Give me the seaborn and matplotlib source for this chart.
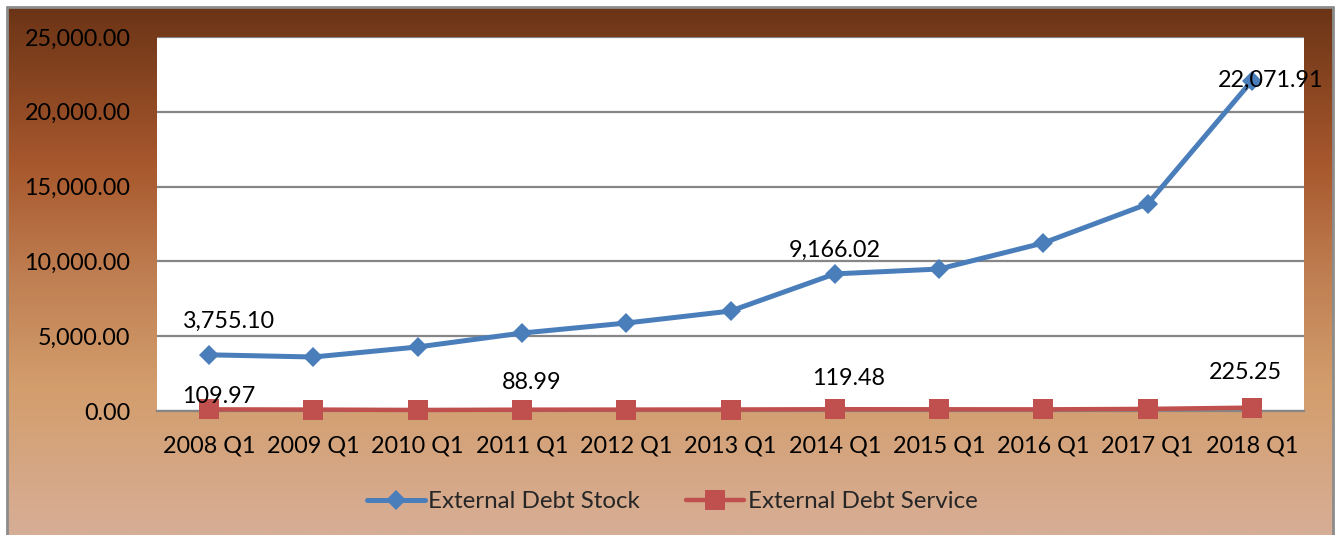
import numpy as np
import pandas as pd
import matplotlib
matplotlib.use("Agg")
import matplotlib.pyplot as plt
from matplotlib.ticker import FuncFormatter, FixedLocator
from matplotlib.colors import LinearSegmentedColormap
from matplotlib.lines import Line2D
import seaborn as sns

# ---- data ----
periods = ["2008 Q1", "2009 Q1", "2010 Q1", "2011 Q1", "2012 Q1", "2013 Q1",
           "2014 Q1", "2015 Q1", "2016 Q1", "2017 Q1", "2018 Q1"]
debt_stock = [3755.10, 3610, 4280, 5210, 5880, 6680, 9166.02, 9490, 11230, 13840, 22071.91]
debt_service = [109.97, 95, 70, 88.99, 95, 100, 119.48, 115, 110, 140, 225.25]
stock_label = "External Debt Stock"
service_label = "External Debt Service"
y_ticks = [0, 5000, 10000, 15000, 20000, 25000]
# labelled points: (index, text)
stock_labels = [(0, "3,755.10"), (6, "9,166.02"), (10, "22,071.91")]
service_labels = [(0, "109.97"), (3, "88.99"), (6, "119.48"), (10, "225.25")]

sns.set_theme(style="white")
plt.rcParams["font.family"] = ["Lato", "DejaVu Sans"]
FS = 16.8

W, H = 1335, 535
fig = plt.figure(figsize=(W / 100, H / 100), dpi=100)
fig.patch.set_facecolor("white")

# background gradient frame
bg = fig.add_axes([0, 0, 1, 1], zorder=0)
bg.set_xlim(0, W)
bg.set_ylim(H, 0)
bg.axis("off")
cmap = LinearSegmentedColormap.from_list("brown", [
    (0.0, (107/255, 52/255, 22/255)),
    (0.3, (168/255, 88/255, 45/255)),
    (0.5, (190/255, 125/255, 80/255)),
    (0.72, (211/255, 157/255, 108/255)),
    (1.0, (215/255, 174/255, 150/255)),
])
grad = np.linspace(0, 1, 256).reshape(-1, 1)
bg.imshow(grad, cmap=cmap, aspect="auto", extent=[7, 1333, 535, 7], zorder=0)
bg.plot([7, 7], [7, 535], color="#8c8c8c", lw=2, zorder=1)
bg.plot([7, 1333], [7, 7], color="#8c8c8c", lw=2, zorder=1)
bg.plot([1333, 1333], [7, 535], color="#8c8c8c", lw=2, zorder=1)

# main axes
L, R, T, B = 157, 1304, 37, 411
ax = fig.add_axes([L / W, 1 - B / H, (R - L) / W, (B - T) / H], zorder=2)
ax.set_facecolor("white")

df = pd.DataFrame({"period": periods, "stock": debt_stock, "service": debt_service})
blue = "#4A7EBB"
red = "#C0504D"
sns.lineplot(data=df, x="period", y="stock", ax=ax, sort=False, color=blue,
             lw=3.6, marker="D", markersize=9.7, markeredgewidth=0,
             markeredgecolor=blue, label=stock_label, legend=False, zorder=4)
sns.lineplot(data=df, x="period", y="service", ax=ax, sort=False, color=red,
             lw=3.2, marker="s", markersize=14.4, markeredgewidth=0,
             markeredgecolor=red, label=service_label, legend=False, zorder=3)
for ln in ax.lines:
    ln.set_clip_on(False)

ax.set_xlim(-0.5, len(periods) - 0.5)
ax.set_ylim(0, 25000)
ax.yaxis.set_major_locator(FixedLocator(y_ticks))
ax.yaxis.set_major_formatter(FuncFormatter(lambda v, p: f"{v:,.2f}"))
ax.grid(axis="y", color="#868686", lw=1.6, zorder=1)
ax.grid(axis="x", visible=False)
ax.set_axisbelow(True)
for s in ["left", "right", "top"]:
    ax.spines[s].set_visible(False)
ax.spines["bottom"].set_color("#868686")
ax.spines["bottom"].set_linewidth(1.6)
ax.spines["bottom"].set_zorder(1)
ax.tick_params(axis="y", length=0, pad=19, labelsize=FS, labelcolor="black")
ax.tick_params(axis="x", length=0, pad=18, labelsize=FS, labelcolor="black")
ax.set_xlabel("")
ax.set_ylabel("")

# data labels (offsets in pixels -> points)
stock_off = {0: (20, 33), 6: (0, 24), 10: (19, 0)}
service_off = {0: (10, 13), 3: (10, 27), 6: (14, 31), 10: (-6, 35)}
for i, txt in stock_labels:
    dx, dy = stock_off[i]
    ax.annotate(txt, (i, debt_stock[i]), xytext=(dx * 0.72, dy * 0.72),
                textcoords="offset points", ha="center", va="center",
                fontsize=FS, color="black", zorder=6, annotation_clip=False)
for i, txt in service_labels:
    dx, dy = service_off[i]
    ax.annotate(txt, (i, debt_service[i]), xytext=(dx * 0.72, dy * 0.72),
                textcoords="offset points", ha="center", va="center",
                fontsize=FS, color="black", zorder=6, annotation_clip=False)

# legend
handles = [
    Line2D([], [], color=blue, lw=3.6, marker="D", markersize=9.7, markeredgewidth=0),
    Line2D([], [], color=red, lw=3.2, marker="s", markersize=14.4, markeredgewidth=0),
]
fig.legend(handles, [stock_label, service_label], loc="center",
           bbox_to_anchor=(672 / W, 1 - 502 / H), ncol=2, frameon=False,
           fontsize=FS + 0.6, handlelength=2.4, handletextpad=0.15, columnspacing=1.9)

fig.savefig("out.png", dpi=100, facecolor=fig.get_facecolor())
